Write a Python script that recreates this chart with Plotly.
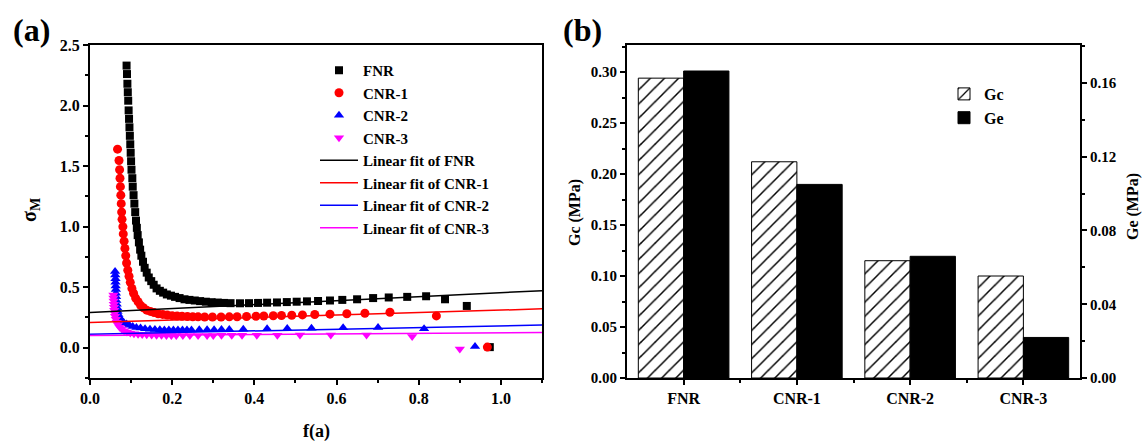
import plotly.graph_objects as go

# ---------------- data: panel (a) ----------------
fnr_f = [0.089,0.090,0.091,0.092,0.093,0.094,0.095,0.096,0.097,0.098,0.099,0.100,0.101,0.103,0.104,0.106,0.108,0.110,0.112,0.114,0.116,0.119,0.122,0.125,0.129,0.133,0.138,0.143,0.149,0.155,0.162,0.170,0.178,0.187,0.197,0.207,0.218,0.230,0.242,0.255,0.268,0.282,0.296,0.311,0.326,0.342,0.365,0.387,0.409,0.431,0.455,0.479,0.503,0.528,0.555,0.584,0.614,0.650,0.689,0.727,0.772,0.818,0.864,0.917,0.973]
fnr_s = [2.33,2.26,2.18,2.11,2.04,1.96,1.89,1.82,1.75,1.68,1.61,1.54,1.47,1.40,1.33,1.26,1.19,1.12,1.05,0.99,0.93,0.87,0.81,0.76,0.71,0.66,0.62,0.58,0.55,0.52,0.49,0.47,0.455,0.44,0.43,0.42,0.41,0.40,0.395,0.39,0.385,0.38,0.376,0.373,0.370,0.368,0.367,0.368,0.370,0.372,0.374,0.377,0.380,0.383,0.386,0.390,0.395,0.400,0.410,0.415,0.420,0.425,0.400,0.345,0.005]

cnr1_f = [0.067,0.0706,0.072,0.073,0.074,0.075,0.076,0.077,0.078,0.080,0.081,0.083,0.085,0.087,0.089,0.092,0.095,0.098,0.102,0.106,0.111,0.117,0.123,0.130,0.138,0.147,0.156,0.166,0.177,0.188,0.200,0.212,0.224,0.237,0.250,0.263,0.279,0.298,0.319,0.339,0.358,0.381,0.404,0.423,0.446,0.466,0.491,0.517,0.547,0.584,0.625,0.669,0.730,0.843,0.967]
cnr1_s = [1.64,1.546,1.47,1.40,1.33,1.26,1.19,1.12,1.06,1.00,0.94,0.88,0.82,0.76,0.70,0.64,0.59,0.54,0.49,0.45,0.41,0.38,0.35,0.33,0.31,0.30,0.29,0.28,0.275,0.27,0.265,0.262,0.26,0.258,0.256,0.255,0.254,0.254,0.254,0.255,0.256,0.258,0.260,0.262,0.264,0.266,0.268,0.271,0.274,0.277,0.281,0.285,0.293,0.263,0.005]

cnr2_f = [0.061,0.0615,0.062,0.062,0.0625,0.063,0.063,0.0635,0.064,0.065,0.066,0.067,0.069,0.071,0.074,0.078,0.083,0.089,0.096,0.104,0.113,0.123,0.134,0.146,0.158,0.170,0.181,0.192,0.203,0.214,0.225,0.236,0.247,0.266,0.285,0.302,0.320,0.339,0.373,0.431,0.480,0.539,0.616,0.701,0.813,0.937]
cnr2_s = [0.63,0.60,0.57,0.54,0.51,0.48,0.45,0.42,0.39,0.36,0.33,0.30,0.275,0.255,0.235,0.22,0.205,0.195,0.185,0.175,0.168,0.162,0.157,0.153,0.150,0.148,0.147,0.146,0.146,0.146,0.146,0.147,0.147,0.148,0.148,0.149,0.150,0.150,0.152,0.156,0.158,0.160,0.164,0.167,0.156,0.01]

cnr3_f = [0.057,0.057,0.0575,0.058,0.0585,0.059,0.060,0.061,0.063,0.065,0.068,0.072,0.077,0.083,0.090,0.098,0.107,0.117,0.127,0.138,0.150,0.162,0.174,0.186,0.198,0.210,0.226,0.243,0.263,0.285,0.300,0.320,0.345,0.370,0.406,0.456,0.511,0.586,0.673,0.784,0.900]
cnr3_s = [0.435,0.41,0.385,0.36,0.335,0.31,0.285,0.26,0.235,0.21,0.19,0.17,0.155,0.14,0.13,0.122,0.116,0.112,0.109,0.107,0.105,0.104,0.103,0.102,0.102,0.102,0.102,0.102,0.102,0.102,0.102,0.103,0.103,0.103,0.104,0.104,0.105,0.105,0.106,0.092,-0.01]

series_names = ["FNR", "CNR-1", "CNR-2", "CNR-3"]
fit_intercepts = [0.290, 0.208, 0.112, 0.100]
fit_slopes = [0.1645, 0.1027, 0.068, 0.024]
fit_x_range = [0.0, 1.1]

# ---------------- data: panel (b) ----------------
categories = ["FNR", "CNR-1", "CNR-2", "CNR-3"]
gc_values = [0.294, 0.212, 0.115, 0.100]
ge_values = [0.1665, 0.105, 0.066, 0.022]

# ---------------- styling ----------------
FONT = "Liberation Serif, Times New Roman, serif"
colors = ["#000000", "#ff0000", "#0000ff", "#ff00ff"]
symbols = ["square", "circle", "triangle-up", "triangle-down"]
sizes = [8, 9, 9, 9]

fig = go.Figure()

xs_list = [fnr_f, cnr1_f, cnr2_f, cnr3_f]
ys_list = [fnr_s, cnr1_s, cnr2_s, cnr3_s]
for name, xs, ys, c, sym, sz in zip(series_names, xs_list, ys_list, colors, symbols, sizes):
    fig.add_trace(go.Scatter(x=xs, y=ys, mode="markers", name=name,
                             marker=dict(symbol=sym, color=c, size=sz, line=dict(width=0)),
                             xaxis="x", yaxis="y", legend="legend"))

for name, a, b, c in zip(series_names, fit_intercepts, fit_slopes, colors):
    fx = fit_x_range
    fy = [a + b * v for v in fx]
    fig.add_trace(go.Scatter(x=fx, y=fy, mode="lines", name="Linear fit of " + name,
                             line=dict(color=c, width=1.5),
                             xaxis="x", yaxis="y", legend="legend"))

xpos = list(range(len(categories)))
fig.add_trace(go.Bar(x=xpos, y=gc_values, name="Gc", xaxis="x2", yaxis="y2",
                     width=0.4, offset=-0.4,
                     marker=dict(color="white", line=dict(color="black", width=1),
                                 pattern=dict(shape="/", fgcolor="black", bgcolor="white",
                                              fgopacity=1, size=10, solidity=0.15)),
                     legend="legend2"))
fig.add_trace(go.Bar(x=xpos, y=ge_values, name="Ge", xaxis="x2", yaxis="y3",
                     width=0.4, offset=0.0,
                     marker=dict(color="black", line=dict(color="black", width=1)),
                     legend="legend2"))

W, H = 1145, 441
def px_x(p): return p / W
def px_y(p): return (H - p) / H

axis_common = dict(showgrid=False, zeroline=False, showline=True, linecolor="black",
                   linewidth=2, ticks="outside", ticklen=5, tickwidth=2, tickcolor="black",
                   automargin=False)
tickfont_a = dict(family=FONT, size=16, color="black", weight="bold")
tickfont_b = dict(family=FONT, size=15, color="black", weight="bold")

fig.update_layout(
    width=W, height=H,
    margin=dict(l=0, r=0, t=0, b=0, autoexpand=False),
    paper_bgcolor="white", plot_bgcolor="white",
    barmode="overlay",
    font=dict(family=FONT, color="black", weight="bold"),
    xaxis=dict(domain=[px_x(90), px_x(542)], range=[0, 1.1], dtick=0.2, tick0=0,
               tickformat=".1f", mirror=True, anchor="y", tickfont=tickfont_a,
               minor=dict(dtick=0.1, ticks="outside", ticklen=3, tickwidth=1.5, tickcolor="black"),
               **axis_common),
    yaxis=dict(domain=[px_y(378), px_y(45)], range=[-0.25, 2.5], dtick=0.5, tick0=0,
               tickformat=".1f", mirror=True, anchor="x", tickfont=tickfont_a,
               minor=dict(dtick=0.25, ticks="outside", ticklen=3, tickwidth=1.5, tickcolor="black"),
               **axis_common),
    xaxis2=dict(domain=[px_x(627), px_x(1080)], range=[-0.5, 3.5],
                tickvals=xpos, ticktext=categories, mirror=True, anchor="y2",
                tickfont=dict(family=FONT, size=16, color="black", weight="bold"),
                minor=dict(tickvals=[0.5, 1.5, 2.5], ticks="outside", ticklen=3, tickwidth=1.5, tickcolor="black"),
                **axis_common),
    yaxis2=dict(domain=[px_y(378), px_y(45)], range=[0, 0.3265], dtick=0.05, tick0=0,
                tickformat=".2f", anchor="x2", tickfont=tickfont_b,
                minor=dict(dtick=0.025, ticks="outside", ticklen=3, tickwidth=1.5, tickcolor="black"),
                **axis_common),
    yaxis3=dict(range=[0, 0.1806], dtick=0.04, tick0=0, tickformat=".2f",
                overlaying="y2", side="right", anchor="x2", tickfont=tickfont_b,
                minor=dict(dtick=0.02, ticks="outside", ticklen=3, tickwidth=1.5, tickcolor="black"),
                **axis_common),
    legend=dict(x=px_x(315), y=px_y(54), xanchor="left", yanchor="top",
                bgcolor="rgba(0,0,0,0)", borderwidth=0, itemwidth=38,
                font=dict(family=FONT, size=15, color="black", weight="bold"),
                tracegroupgap=0),
    legend2=dict(x=px_x(944), y=px_y(77), xanchor="left", yanchor="top",
                 bgcolor="rgba(0,0,0,0)", borderwidth=0,
                 font=dict(family=FONT, size=16, color="black", weight="bold")),
    showlegend=True,
)

ann_font = lambda s: dict(family=FONT, size=s, color="black", weight="bold")
annotations = [
    dict(text="(a)", x=px_x(31), y=px_y(30), font=ann_font(32)),
    dict(text="(b)", x=px_x(582), y=px_y(30), font=ann_font(32)),
    dict(text="f(a)", x=px_x(316), y=px_y(431), font=ann_font(18)),
    dict(text="σ<sub>M</sub>", x=px_x(30), y=px_y(210), font=ann_font(20), textangle=-90),
    dict(text="Gc (MPa)", x=px_x(575), y=px_y(212), font=ann_font(16), textangle=-90),
    dict(text="Ge (MPa)", x=px_x(1133), y=px_y(207), font=ann_font(16), textangle=-90),
]
for a in annotations:
    a.update(xref="paper", yref="paper", showarrow=False, xanchor="center", yanchor="middle")
fig.update_layout(annotations=annotations)

fig.write_html("out.html",
               config={"displayModeBar": False},
               post_script="document.body.style.margin='0px';document.body.style.padding='0px';")
